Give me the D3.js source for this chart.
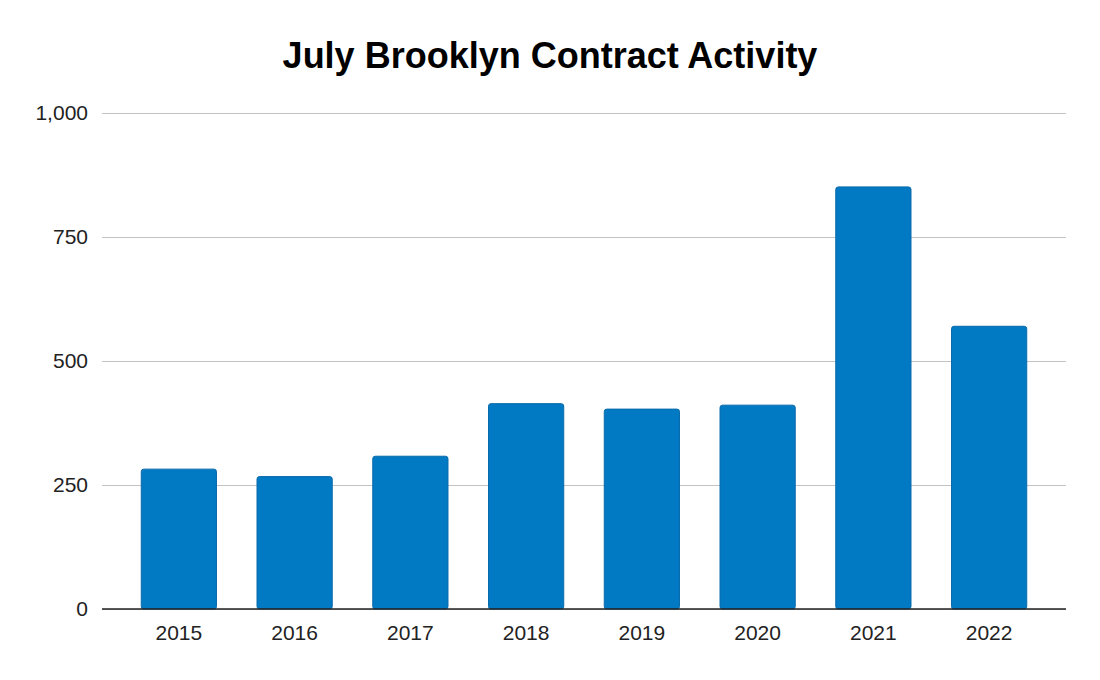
<!DOCTYPE html>
<html>
<head>
<meta charset="utf-8">
<script src="https://cdn.jsdelivr.net/npm/d3@7"></script>
<style>
  body { margin: 0; background: #fff; }
  #viz text { font-family: "Liberation Sans", Arial, sans-serif; }
</style>
</head>
<body>
<div id="viz"></div>
<script>
var years = ["2015", "2016", "2017", "2018", "2019", "2020", "2021", "2022"];
var contracts = [282, 267, 308, 414, 403, 411, 851, 570];
var yTicks = [0, 250, 500, 750, 1000];
var title = "July Brooklyn Contract Activity";

var w = 1100, h = 680;
var padL = 102, padR = 1066, padT = 113, padB = 609;

var svg = d3.select("#viz").append("svg")
    .attr("width", w)
    .attr("height", h);

var x = d3.scaleBand()
    .domain(years)
    .range([121, 1047])
    .paddingInner(0.35)
    .paddingOuter(0.175);

var y = d3.scaleLinear()
    .domain([0, 1000])
    .range([padB, padT]);

// title
svg.append("text")
    .attr("x", 550)
    .attr("y", 68)
    .attr("text-anchor", "middle")
    .style("font-size", "36px")
    .style("font-weight", "bold")
    .text(title);

// gridlines + y labels
var yAxis = d3.axisLeft(y)
    .tickValues(yTicks)
    .tickSize(-(padR - padL))
    .tickPadding(14)
    .tickFormat(d3.format(","));

var gy = svg.append("g")
    .attr("transform", "translate(" + padL + ",0)")
    .call(yAxis);
gy.select(".domain").remove();
gy.selectAll(".tick line").attr("stroke", "#c3c3c3").attr("stroke-width", 1.2);
gy.selectAll(".tick text")
    .style("font-size", "21px")
    .attr("fill", "#222");

// bars
svg.selectAll("rect.bar")
    .data(contracts)
    .enter()
    .append("rect")
    .attr("class", "bar")
    .attr("x", function(d, i) { return x(years[i]); })
    .attr("y", function(d) { return y(d); })
    .attr("width", x.bandwidth())
    .attr("height", function(d) { return y(0) - y(d); })
    .attr("rx", 2.5)
    .style("fill", "#0179c3")
    .style("stroke", "#0a6aab")
    .style("stroke-width", 1);

// baseline + x labels
var xAxis = d3.axisBottom(x).tickSize(0).tickPadding(16);
var gx = svg.append("g")
    .attr("transform", "translate(0," + padB + ")")
    .call(xAxis);
gx.select(".domain").remove();
gx.selectAll(".tick text")
    .style("font-size", "21px")
    .attr("fill", "#222");

svg.append("line")
    .attr("x1", padL)
    .attr("x2", padR)
    .attr("y1", padB)
    .attr("y2", padB)
    .attr("stroke", "#222")
    .attr("stroke-width", 1.5);
</script>
</body>
</html>
